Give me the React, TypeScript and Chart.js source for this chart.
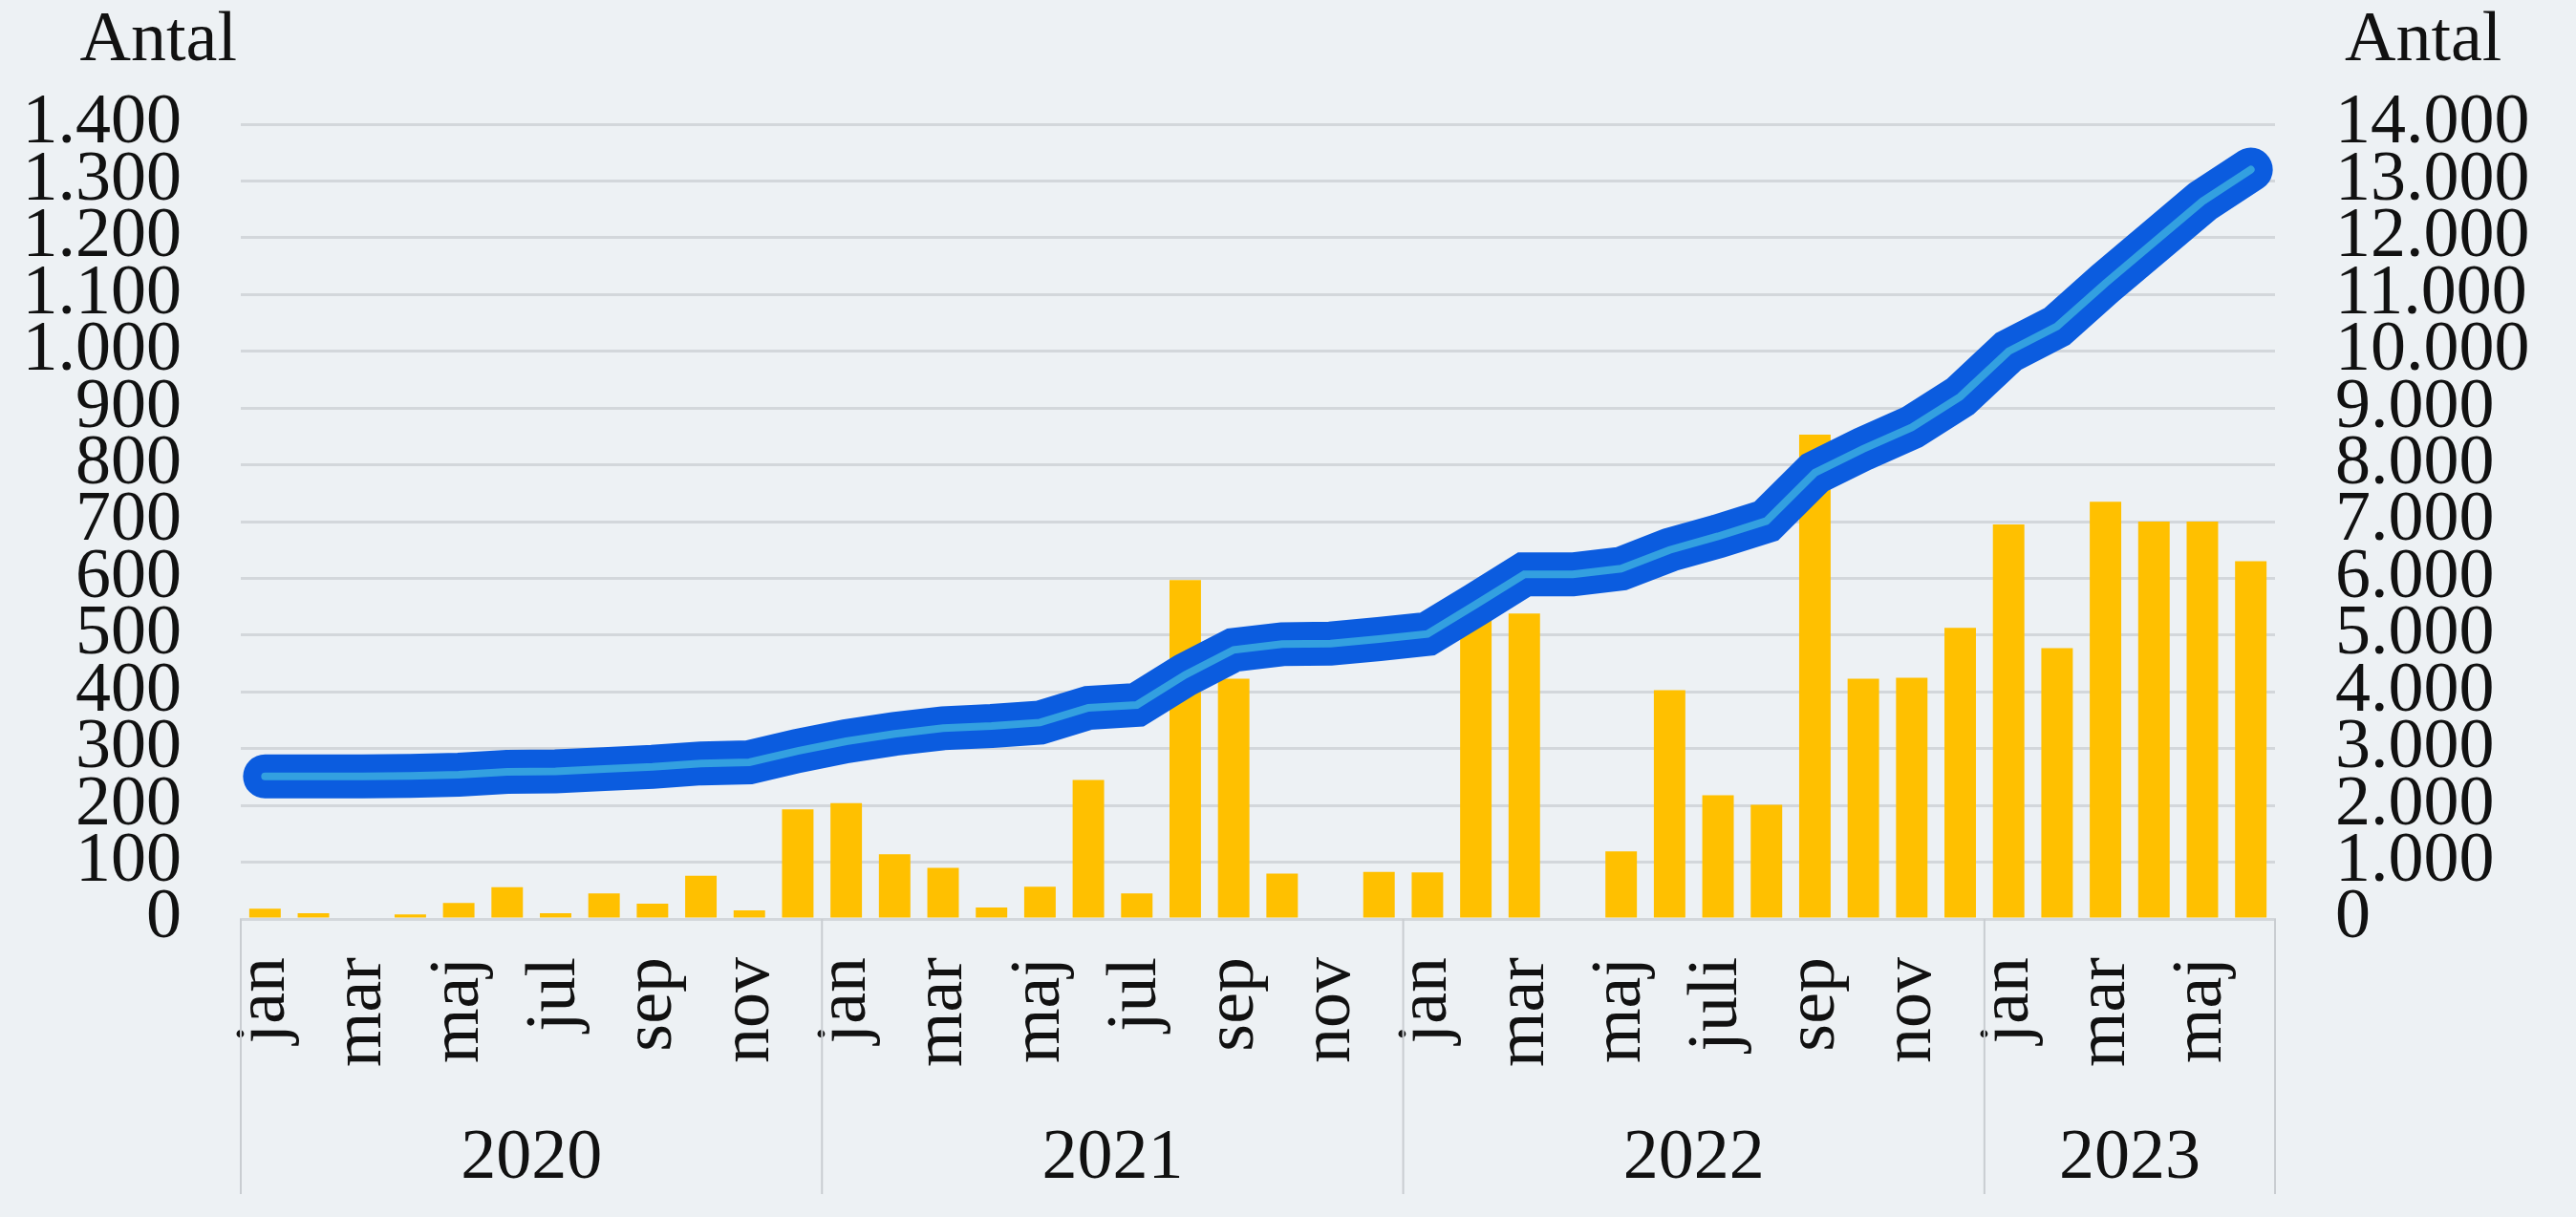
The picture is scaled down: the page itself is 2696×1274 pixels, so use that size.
import React, { useEffect, useRef } from "react";
import { Chart, registerables } from "chart.js";

Chart.register(...registerables);

const monthNames = ["jan", "feb", "mar", "apr", "maj", "jun", "jul", "aug", "sep", "okt", "nov", "dec"];
const years = ["2020", "2021", "2022", "2023"];
const monthsPerYear = [12, 12, 12, 6];

const categories: string[] = [];
years.forEach((y, yi) => {
  for (let m = 0; m < monthsPerYear[yi]; m++) {
    categories.push(y === "2022" && m === 6 ? "juli" : monthNames[m]);
  }
});

// Monthly number (left axis)
const monthly2020 = [18, 10, 0, 8, 28, 56, 10, 45, 27, 76, 15, 193];
const monthly2021 = [204, 114, 90, 20, 57, 245, 45, 597, 423, 80, 0, 83];
const monthly2022 = [82, 530, 538, 0, 119, 403, 218, 201, 853, 423, 425, 513];
const monthly2023 = [695, 477, 735, 700, 700, 630];
const monthlyValues = [...monthly2020, ...monthly2021, ...monthly2022, ...monthly2023];

// Accumulated number (right axis)
const total2020 = [2510, 2510, 2510, 2520, 2540, 2590, 2600, 2640, 2680, 2740, 2760, 2960];
const total2021 = [3130, 3260, 3360, 3400, 3460, 3720, 3770, 4300, 4740, 4840, 4850, 4930];
const total2022 = [5020, 5540, 6070, 6070, 6170, 6500, 6740, 7010, 7860, 8280, 8660, 9200];
const total2023 = [10000, 10440, 11200, 11920, 12640, 13200];
const totalValues = [...total2020, ...total2021, ...total2022, ...total2023];

const leftMax = 1400;
const leftStep = 100;
const rightMax = 14000;
const rightStep = 1000;
const axisTitle = "Antal";

const FONT = "'Liberation Serif', 'Times New Roman', serif";
const FONT_SIZE = 74;
const TEXT = "#111111";
const BG = "#EDF1F4";
const GRID = "#D3D7DB";

const fmt = (v: number) => String(v).replace(/\B(?=(\d{3})+(?!\d))/g, ".");

const decorPlugin = {
  id: "decor",
  afterDraw(chart: any) {
    const ctx = chart.ctx as CanvasRenderingContext2D;
    const xs = chart.scales.x;
    const area = chart.chartArea;
    const half = (xs.getPixelForValue(1) - xs.getPixelForValue(0)) / 2;
    ctx.save();
    ctx.strokeStyle = "#C9CDD1";
    ctx.lineWidth = 2;
    ctx.fillStyle = TEXT;
    ctx.font = `${FONT_SIZE}px ${FONT}`;
    ctx.textAlign = "center";
    ctx.textBaseline = "middle";
    let start = 0;
    const sepBottom = area.bottom + 288;
    years.forEach((y, yi) => {
      const n = monthsPerYear[yi];
      const x0 = xs.getPixelForValue(start) - half;
      const x1 = xs.getPixelForValue(start + n - 1) + half;
      ctx.beginPath();
      ctx.moveTo(x0, area.bottom);
      ctx.lineTo(x0, sepBottom);
      ctx.stroke();
      if (yi === years.length - 1) {
        ctx.beginPath();
        ctx.moveTo(x1, area.bottom);
        ctx.lineTo(x1, sepBottom);
        ctx.stroke();
      }
      ctx.fillText(y, (x0 + x1) / 2, area.bottom + 252);
      start += n;
    });
    ctx.textBaseline = "alphabetic";
    ctx.textAlign = "right";
    ctx.fillText(axisTitle, area.left - 4, 63);
    ctx.textAlign = "left";
    ctx.fillText(axisTitle, area.right + 73, 63);
    ctx.restore();
  },
};

export default function App() {
  const ref = useRef<HTMLCanvasElement | null>(null);
  useEffect(() => {
    if (!ref.current) return;
    const chart = new Chart(ref.current, {
      type: "bar",
      data: {
        labels: categories,
        datasets: [
          {
            type: "line",
            data: totalValues,
            yAxisID: "y2",
            borderColor: "#33A0E0",
            borderWidth: 8,
            pointRadius: 0,
            tension: 0,
            borderCapStyle: "round",
            borderJoinStyle: "miter",
            order: 1,
          } as any,
          {
            type: "line",
            data: totalValues,
            yAxisID: "y2",
            borderColor: "#0B5CDF",
            borderWidth: 46,
            pointRadius: 0,
            tension: 0,
            borderCapStyle: "round",
            borderJoinStyle: "miter",
            order: 2,
          } as any,
          {
            type: "bar",
            data: monthlyValues,
            yAxisID: "y",
            backgroundColor: "#FFC000",
            barPercentage: 0.65,
            categoryPercentage: 1,
            order: 3,
          },
        ],
      },
      options: {
        animation: false,
        responsive: true,
        maintainAspectRatio: false,
        devicePixelRatio: 1,
        layout: { padding: { top: 130, left: 0, right: 0, bottom: 0 } },
        plugins: { legend: { display: false }, tooltip: { enabled: false } },
        scales: {
          x: {
            grid: { display: false, drawTicks: false },
            border: { display: true, color: GRID, width: 3 },
            ticks: {
              autoSkip: false,
              minRotation: 90,
              maxRotation: 90,
              padding: 40,
              color: TEXT,
              font: { family: FONT, size: FONT_SIZE },
              callback: (_v: any, i: number) => (i % 2 === 0 ? categories[i] : ""),
            },
            afterFit: (s: any) => {
              s.height = 312;
            },
          },
          y: {
            position: "left",
            min: 0,
            max: leftMax,
            grid: { color: GRID, lineWidth: 3, drawTicks: false },
            border: { display: false },
            ticks: {
              stepSize: leftStep,
              autoSkip: false,
              padding: 62,
              color: TEXT,
              font: { family: FONT, size: FONT_SIZE },
              callback: (v: any) => fmt(Number(v)),
            },
            afterFit: (s: any) => {
              s.width = 252;
            },
          },
          y2: {
            position: "right",
            min: 0,
            max: rightMax,
            grid: { display: false, drawTicks: false },
            border: { display: false },
            ticks: {
              stepSize: rightStep,
              autoSkip: false,
              padding: 63,
              color: TEXT,
              font: { family: FONT, size: FONT_SIZE },
              callback: (v: any) => fmt(Number(v)),
            },
            afterFit: (s: any) => {
              s.width = 315;
            },
          },
        },
      },
      plugins: [decorPlugin],
    });
    return () => chart.destroy();
  }, []);
  return (
    <div style={{ position: "fixed", left: 0, top: 0, width: 2696, height: 1274, background: BG }}>
      <canvas ref={ref} />
    </div>
  );
}
